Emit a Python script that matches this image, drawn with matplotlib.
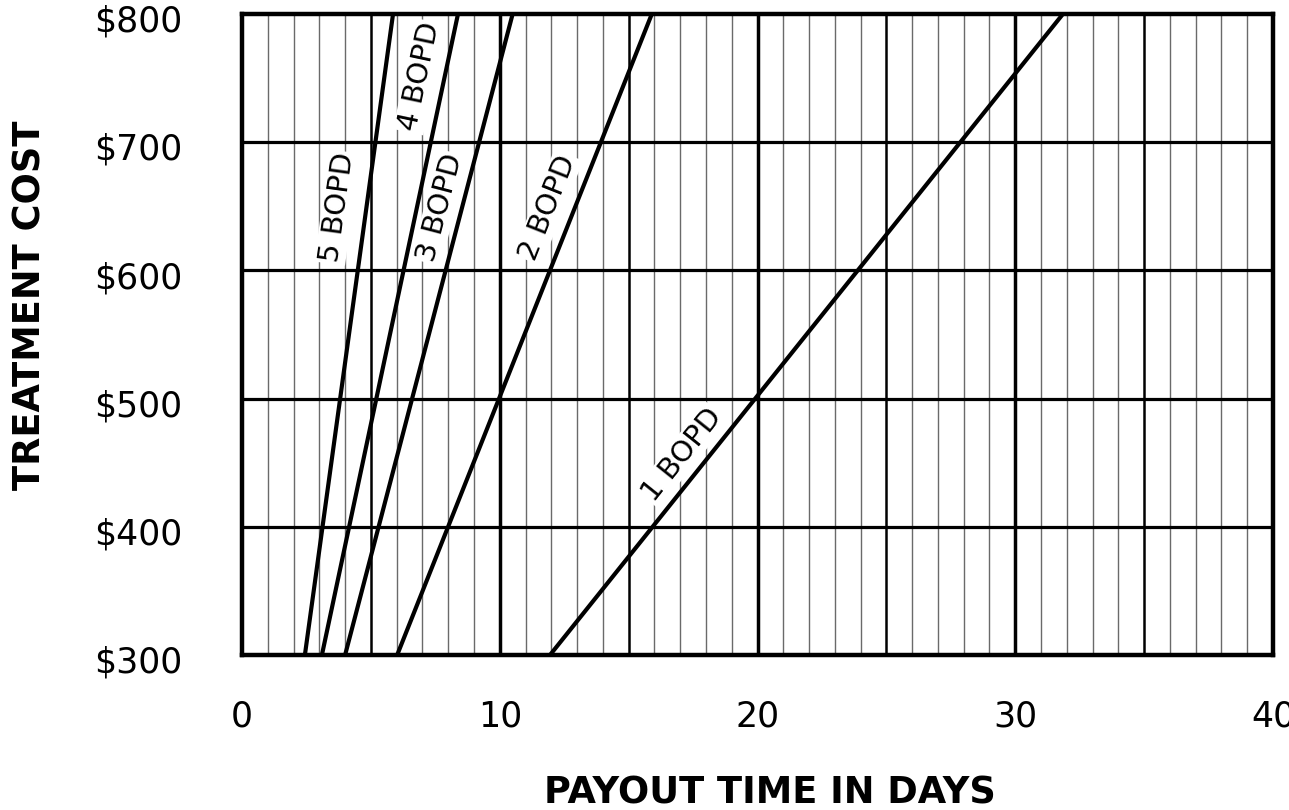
import numpy as np
import matplotlib
matplotlib.use("Agg")
import matplotlib.pyplot as plt
import matplotlib.transforms as mtransforms

# ---- data ----
series_names = ["5 BOPD", "4 BOPD", "3 BOPD", "2 BOPD", "1 BOPD"]
cost_ends = [300, 800]                      # treatment cost at line ends ($)
days_5 = [2.44, 5.86]
days_4 = [3.10, 8.38]
days_3 = [4.00, 10.50]
days_2 = [6.02, 15.90]
days_1 = [11.95, 31.85]
series_days = [days_5, days_4, days_3, days_2, days_1]

# label anchor points (days, cost)
label_x = [3.70, 6.90, 7.68, 11.87, 17.07]
label_y = [649, 751, 649, 649, 456]

x_ticks = [0, 10, 20, 30, 40]
x_tick_labels = ["0", "10", "20", "30", "40"]
y_ticks = [300, 400, 500, 600, 700, 800]
y_tick_labels = ["$300", "$400", "$500", "$600", "$700", "$800"]

plt.rcParams['font.family'] = ['DejaVu Sans']

fig = plt.figure(figsize=(12.89, 8.10), dpi=100)
ax = fig.add_axes([242/1289, 1 - 655/810, 1031/1289, 641/810])
ax.set_xlim(0, 40)
ax.set_ylim(300, 800)

# vertical grid
for d in range(1, 40):
    if d % 10 == 0:
        ax.axvline(d, color='black', lw=2.5, zorder=1)
    elif d % 5 == 0:
        ax.axvline(d, color='black', lw=1.8, zorder=1)
    else:
        ax.axvline(d, color='#6a6a6a', lw=1.0, zorder=1)
# horizontal grid
for c in y_ticks[1:-1]:
    ax.axhline(c, color='black', lw=2.3, zorder=1)

# data lines
for days in series_days:
    ax.plot(days, cost_ends, color='black', lw=3.0, solid_capstyle='butt', zorder=4)

fig.canvas.draw()
# labels rotated along the lines
for name, days, lx, ly in zip(series_names, series_days, label_x, label_y):
    p0 = ax.transData.transform((days[0], cost_ends[0]))
    p1 = ax.transData.transform((days[1], cost_ends[1]))
    ang = np.degrees(np.arctan2(p1[1] - p0[1], p1[0] - p0[0]))
    ax.text(lx, ly, name, rotation=ang, rotation_mode='anchor',
            ha='center', va='center', fontsize=21, color='black', zorder=3,
            bbox=dict(facecolor='white', edgecolor='none', pad=1.0))

for s in ax.spines.values():
    s.set_linewidth(3.2)
    s.set_color('black')
    s.set_zorder(5)

ax.set_xticks(x_ticks)
ax.set_xticklabels(x_tick_labels, fontsize=25)
ax.set_yticks(y_ticks)
ax.set_yticklabels(y_tick_labels, fontsize=25)
ax.tick_params(axis='x', length=0, pad=32)
ax.tick_params(axis='y', length=0, pad=43)
shift = mtransforms.ScaledTranslation(0, -3/72, fig.dpi_scale_trans)
for lab in ax.get_yticklabels():
    lab.set_transform(lab.get_transform() + shift)

fig.text(30/1289, 1 - 305/810, "TREATMENT COST", rotation=90, ha='center', va='center',
         fontsize=26.5, fontweight='bold')
fig.text(770/1289, 1 - 793/810, "PAYOUT TIME IN DAYS", ha='center', va='center',
         fontsize=26.5, fontweight='bold')

fig.savefig("out.png", dpi=100, facecolor='white')
